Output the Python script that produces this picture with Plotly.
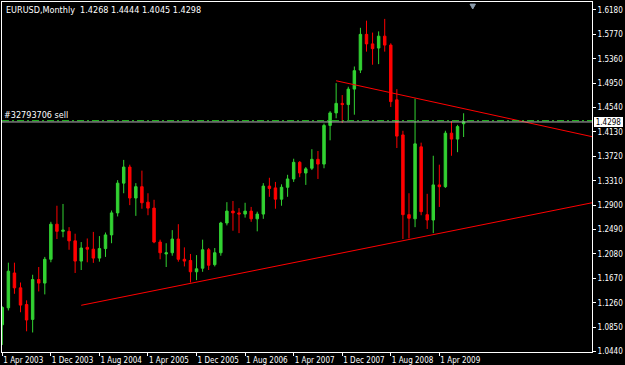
import pandas as pd
import plotly.graph_objects as go

symbol = "EURUSD"
timeframe = "Monthly"
start_month = "2003-04-01"

opens = [1.0890, 1.1175, 1.1760, 1.1510, 1.1230, 1.0980, 1.1650, 1.1590, 1.1990, 1.2580,
         1.2460, 1.2460, 1.2300, 1.1960, 1.2190, 1.2160, 1.2010, 1.2170, 1.2400, 1.2770,
         1.3270, 1.3540, 1.3020, 1.3210, 1.2950, 1.2850, 1.2280, 1.2080, 1.2100, 1.2330,
         1.1990, 1.1970, 1.1780, 1.1840, 1.2150, 1.1900, 1.2100, 1.2600, 1.2800, 1.2770,
         1.2750, 1.2800, 1.2670, 1.2750, 1.3220, 1.3190, 1.3000, 1.3200, 1.3340, 1.3620,
         1.3440, 1.3520, 1.3670, 1.3590, 1.4240, 1.4450, 1.4610, 1.4590, 1.4850, 1.5170,
         1.5770, 1.5610, 1.5540, 1.5740, 1.5590, 1.4670, 1.4080, 1.2740, 1.2670, 1.3880,
         1.2740, 1.2650, 1.3240, 1.3210, 1.4110, 1.4010, 1.4268]
highs = [1.1200, 1.1933, 1.1933, 1.1600, 1.1300, 1.1730, 1.1860, 1.2030, 1.2620, 1.2890,
         1.2920, 1.2530, 1.2420, 1.2280, 1.2340, 1.2450, 1.2380, 1.2440, 1.2810, 1.3320,
         1.3660, 1.3580, 1.3270, 1.3480, 1.3100, 1.2990, 1.2320, 1.2260, 1.2480, 1.2580,
         1.2190, 1.2080, 1.2060, 1.2320, 1.2180, 1.2180, 1.2620, 1.2950, 1.2970, 1.2850,
         1.2940, 1.2870, 1.2790, 1.3270, 1.3360, 1.3290, 1.3250, 1.3410, 1.3680, 1.3640,
         1.3540, 1.3840, 1.3810, 1.4270, 1.4480, 1.4950, 1.4750, 1.4890, 1.5230, 1.5880,
         1.6000, 1.5800, 1.5820, 1.6030, 1.5620, 1.4850, 1.4150, 1.3100, 1.4690, 1.3950,
         1.3090, 1.3730, 1.3580, 1.4150, 1.4310, 1.4250, 1.4444]
lows = [1.0550, 1.1130, 1.1410, 1.1100, 1.0780, 1.0760, 1.1450, 1.1400, 1.1940, 1.2330,
        1.2360, 1.2150, 1.1760, 1.1810, 1.1940, 1.1930, 1.1950, 1.2030, 1.2260, 1.2710,
        1.3100, 1.2900, 1.2720, 1.2840, 1.2730, 1.2260, 1.1990, 1.1860, 1.2050, 1.1950,
        1.1870, 1.1600, 1.1640, 1.1780, 1.1810, 1.1870, 1.2050, 1.2560, 1.2470, 1.2430,
        1.2690, 1.2620, 1.2460, 1.2670, 1.3040, 1.2840, 1.2890, 1.3040, 1.3290, 1.3370,
        1.3240, 1.3490, 1.3340, 1.3520, 1.3990, 1.4360, 1.4280, 1.4330, 1.4420, 1.5120,
        1.5480, 1.5260, 1.5270, 1.5480, 1.4550, 1.3860, 1.2330, 1.2340, 1.2530, 1.2730,
        1.2500, 1.2430, 1.2870, 1.3190, 1.3730, 1.3790, 1.4045]
closes = [1.1180, 1.1790, 1.1510, 1.1220, 1.0970, 1.1650, 1.1590, 1.1990, 1.2580, 1.2460,
          1.2480, 1.2300, 1.1960, 1.2180, 1.2160, 1.2010, 1.2170, 1.2400, 1.2770, 1.3270,
          1.3540, 1.3020, 1.3210, 1.2940, 1.2850, 1.2280, 1.2100, 1.2100, 1.2330, 1.1990,
          1.1960, 1.1780, 1.1830, 1.2150, 1.1890, 1.2100, 1.2600, 1.2800, 1.2770, 1.2750,
          1.2800, 1.2670, 1.2750, 1.3220, 1.3180, 1.3000, 1.3200, 1.3340, 1.3620, 1.3440,
          1.3510, 1.3670, 1.3590, 1.4240, 1.4450, 1.4610, 1.4590, 1.4850, 1.5160, 1.5770,
          1.5610, 1.5530, 1.5740, 1.5590, 1.4640, 1.4060, 1.2740, 1.2680, 1.3930, 1.2790,
          1.2650, 1.3240, 1.3210, 1.4110, 1.4010, 1.4220, 1.4298]

# price scale labels
price_ticks = [1.6180, 1.5770, 1.5360, 1.4950, 1.4540, 1.4130, 1.3720,
               1.3310, 1.2900, 1.2490, 1.2080, 1.1670, 1.1260, 1.0850, 1.0440]
# date labels every 8 months
date_tick_step = 8

# trend lines (month index, price)
upper_trend_x = [55, 97.2]
upper_trend_y = [1.4990, 1.4050]
lower_trend_x = [13, 97.2]
lower_trend_y = [1.1217, 1.2941]

bid_price = closes[-1]
order_label = "#32793706 sell"
order_price = 1.4320

months = pd.date_range(start_month, periods=len(opens), freq="MS")
idx = list(range(len(opens)))
tick_idx = idx[::date_tick_step]
tick_txt = [f"1 {months[i]:%b %Y}" for i in tick_idx]

FONT = "Liberation Sans Narrow, DejaVu Sans Condensed, Arial Narrow, sans-serif"
GREEN = "#32D232"
RED = "#FF0000"

fig = go.Figure()
fig.add_trace(go.Candlestick(
    x=idx, open=opens, high=highs, low=lows, close=closes,
    increasing=dict(line=dict(color=GREEN, width=1), fillcolor=GREEN),
    decreasing=dict(line=dict(color=RED, width=1), fillcolor=RED),
    whiskerwidth=0, showlegend=False, hoverinfo="skip",
))
fig.add_trace(go.Scatter(x=upper_trend_x, y=upper_trend_y, mode="lines",
                         line=dict(color=RED, width=1), showlegend=False, hoverinfo="skip"))
fig.add_trace(go.Scatter(x=lower_trend_x, y=lower_trend_y, mode="lines",
                         line=dict(color=RED, width=1), showlegend=False, hoverinfo="skip"))

# order line and bid line
fig.add_shape(type="line", xref="paper", x0=0, x1=1, yref="y", y0=order_price, y1=order_price,
              line=dict(color="#22C822", width=1, dash="7px,3px,2px,3px"))
fig.add_shape(type="line", xref="paper", x0=0, x1=1, yref="y", y0=bid_price, y1=bid_price,
              line=dict(color="#B4B4B4", width=1))
# chart shift marker
shift_x = len(opens) + 0.5
fig.add_shape(type="path", xref="x", yref="paper",
              path=f"M {shift_x-0.45} 0.994 L {shift_x+0.45} 0.994 L {shift_x} 0.98 Z",
              fillcolor="#8A9AAA", line=dict(color="#8A9AAA", width=1))

title = f"{symbol},{timeframe}  {opens[-1]:.4f} {highs[-1]:.4f} {lows[-1]:.4f} {closes[-1]:.4f}"
fig.add_annotation(text=title, xref="paper", yref="paper", x=0, y=1, xanchor="left",
                   yanchor="top", xshift=2, yshift=-1, showarrow=False,
                   font=dict(family=FONT, size=9, color="white"))
fig.add_annotation(text=order_label, xref="paper", yref="y", x=0, y=order_price,
                   xanchor="left", yanchor="bottom", xshift=0, yshift=-1, showarrow=False,
                   font=dict(family=FONT, size=9, color="white"))
fig.add_annotation(text=f"{bid_price:.4f}", xref="paper", yref="y", x=1, y=bid_price,
                   xanchor="left", yanchor="middle", xshift=2, showarrow=False,
                   width=27, height=8, align="center",
                   bgcolor="white", bordercolor="white", borderpad=0, borderwidth=1,
                   font=dict(family=FONT, size=8, color="black"))

fig.update_layout(
    width=625, height=365,
    margin=dict(l=2, r=33, t=2, b=13, autoexpand=False),
    paper_bgcolor="black", plot_bgcolor="black",
    boxgap=0.42,
    font=dict(family=FONT, size=8, color="white"),
    xaxis=dict(range=[-0.05, 97.15], tickmode="array", tickvals=tick_idx, ticktext=tick_txt,
               tickangle=0, automargin=False,
               ticks="outside", ticklen=3, tickcolor="white", showline=True, linecolor="white",
               linewidth=1, mirror=True, showgrid=False, zeroline=False,
               ticklabelposition="outside right", rangeslider=dict(visible=False),
               tickfont=dict(family=FONT, size=8, color="white")),
    yaxis=dict(range=[1.0432, 1.6314], side="right", tickmode="array", tickvals=price_ticks,
               ticktext=[f"{v:.4f}" for v in price_ticks], ticks="outside", ticklen=3,
               automargin=False,
               tickcolor="white", showline=True, linecolor="white", linewidth=1, mirror=True,
               showgrid=False, zeroline=False,
               tickfont=dict(family=FONT, size=8, color="white")),
)

fig.write_html("out.html", config={"displayModeBar": False})
